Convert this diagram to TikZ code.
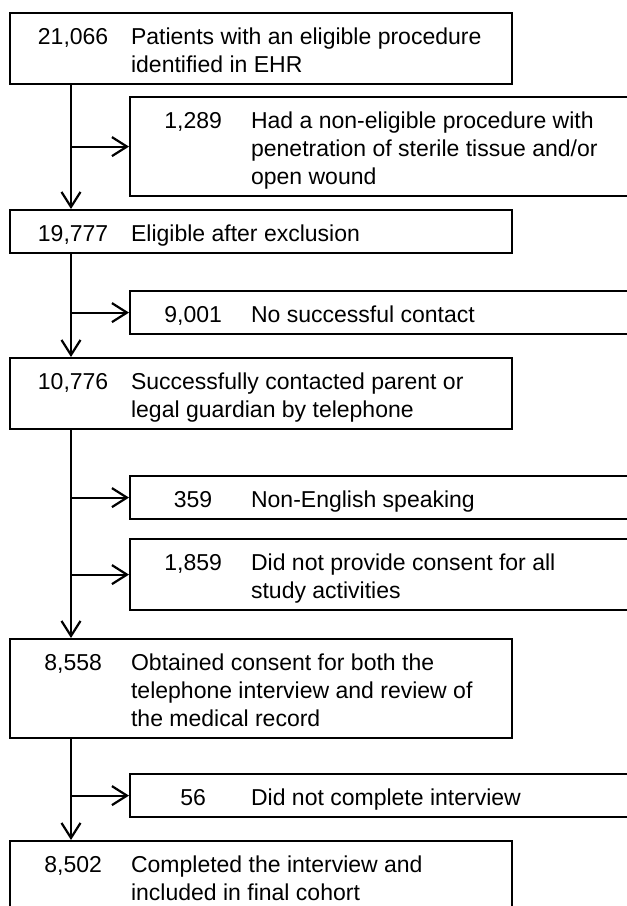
\documentclass[tikz,border=0pt]{standalone}
\usepackage{fontspec}
\setmainfont{Liberation Sans}
\usepackage{tikz}
\usetikzlibrary{arrows.meta}

\newcommand{\topstrut}{\rule{0pt}{26pt}}
\newcommand{\botstrut}{\rule[-7pt]{0pt}{0pt}}
\newcommand{\entry}[3]{\makebox[80pt]{#2}\hspace{18pt}\parbox[t]{#1}{\topstrut#3\botstrut}}

\begin{document}
\begin{tikzpicture}[x=1pt, y=-1pt, line width=2.2pt, >={Straight Barb[length=15pt,width=19pt]},
  box/.style={draw, rectangle, inner xsep=23pt, inner ysep=5pt, anchor=north west, font=\fontsize{23}{28}\selectfont},
  mainbox/.style={box, minimum width=502pt},
  sidebox/.style={box, minimum width=520pt}]
  \useasboundingbox (0,0) rectangle (627,906);
  \clip (0,0) rectangle (627,906);
  \coordinate (t) at (71,0);
  % main flow
  \node[mainbox] (b1) at (9,12)  {\entry{358pt}{21,066}{Patients with an eligible procedure\\identified in EHR}};
  \node[mainbox] (b2) at (9,209) {\entry{358pt}{19,777}{Eligible after exclusion}};
  \node[mainbox] (b3) at (9,357) {\entry{358pt}{10,776}{Successfully contacted parent or\\legal guardian by telephone}};
  \node[mainbox] (b4) at (9,638) {\entry{358pt}{8,558}{Obtained consent for both the\\telephone interview and review of\\the medical record}};
  \node[mainbox] (b5) at (9,840) {\entry{358pt}{8,502}{Completed the interview and\\included in final cohort}};
  % exclusions
  \node[sidebox] (s1) at (129,96)  {\entry{376pt}{1,289}{Had a non-eligible procedure with\\penetration of sterile tissue and/or\\open wound}};
  \node[sidebox] (s2) at (129,290) {\entry{376pt}{9,001}{No successful contact}};
  \node[sidebox] (s3) at (129,475) {\entry{376pt}{359}{Non-English speaking}};
  \node[sidebox] (s4) at (129,538) {\entry{376pt}{1,859}{Did not provide consent for all\\study activities}};
  \node[sidebox] (s5) at (129,773) {\entry{376pt}{56}{Did not complete interview}};
  \draw[->] (b1.south -| t) -- (b2.north -| t);
  \draw[->] (b2.south -| t) -- (b3.north -| t);
  \draw[->] (b3.south -| t) -- (b4.north -| t);
  \draw[->] (b4.south -| t) -- (b5.north -| t);
  \draw[->] (s1.west -| t) -- (s1.west);
  \draw[->] (s2.west -| t) -- (s2.west);
  \draw[->] (s3.west -| t) -- (s3.west);
  \draw[->] (s4.west -| t) -- (s4.west);
  \draw[->] (s5.west -| t) -- (s5.west);
\end{tikzpicture}
\end{document}
